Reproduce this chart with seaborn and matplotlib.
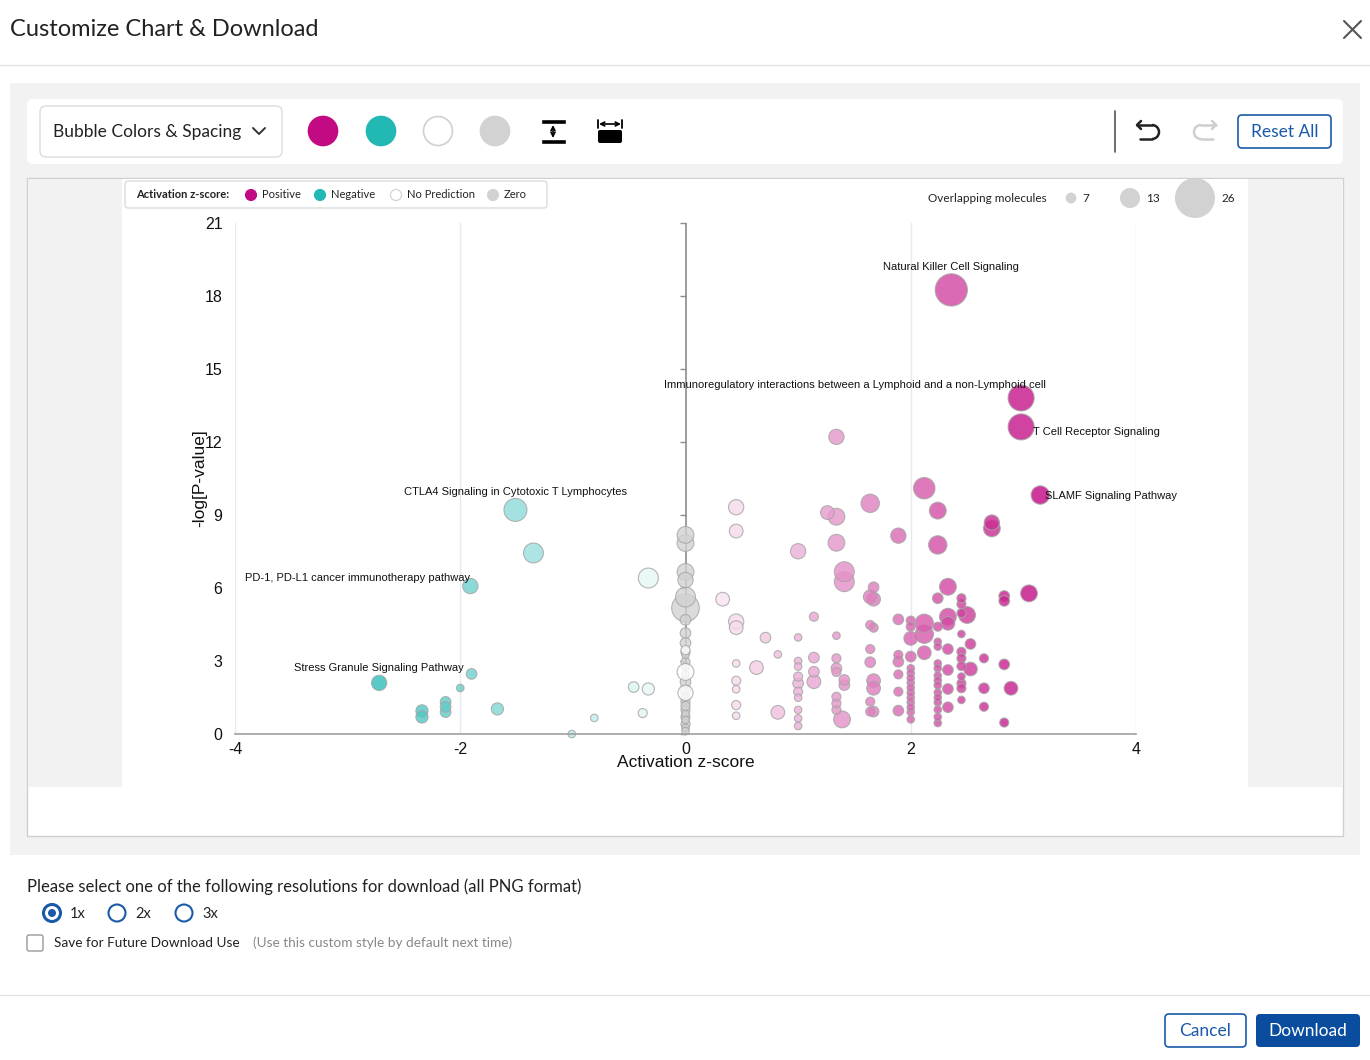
import numpy as np
import pandas as pd
import matplotlib
matplotlib.use("Agg")
import matplotlib.pyplot as plt
import seaborn as sns
from matplotlib.colors import LinearSegmentedColormap, TwoSlopeNorm
from matplotlib.patches import FancyBboxPatch, Rectangle, Circle, Arc

# ---- data ----
# positive z-score pathways: z-score, -log(p), overlapping molecules
pos_z = [2.36, 2.98, 2.98, 1.34, 3.15, 0.45, 0.45, 1.00, 1.26, 1.34, 1.64, 1.89, 2.12, 2.24, 2.24,
         2.72, 2.72, 1.34, 1.41, 1.41, 0.33, 0.45, 0.45, 0.71, 0.82, 0.63, 0.45, 0.45, 0.45, 0.45,
         0.45, 0.82, 1.00, 1.14,
         1.00, 1.00, 1.00, 1.00, 1.00, 1.00, 1.00, 1.00, 1.00,
         1.14, 1.14, 1.14,
         1.34, 1.34, 1.34, 1.34, 1.34, 1.34, 1.34,
         1.41, 1.41, 1.39,
         1.67, 1.64, 1.67, 1.64, 1.67, 1.64, 1.64, 1.67, 1.67, 1.64, 1.67, 1.64,
         1.89, 1.89, 1.89, 1.89, 1.89, 1.89,
         2.00, 2.00, 2.00, 2.00, 2.00, 2.00, 2.00, 2.00, 2.00, 2.00, 2.00, 2.00, 2.00, 2.00, 2.00,
         2.12, 2.12, 2.12,
         2.24, 2.24, 2.24, 2.24, 2.24, 2.24, 2.24, 2.24, 2.24, 2.24, 2.24, 2.24, 2.24, 2.24, 2.24,
         2.33, 2.33, 2.33, 2.33, 2.33, 2.33, 2.33,
         2.45, 2.45, 2.45, 2.45, 2.45, 2.45, 2.45, 2.45, 2.45, 2.45, 2.45,
         2.50, 2.53, 2.53, 2.65, 2.65, 2.65, 2.83, 2.83, 2.83, 2.83, 2.89, 3.05]
pos_p = [18.25, 13.81, 12.62, 12.21, 9.82, 9.32, 8.34, 7.51, 9.10, 8.93, 9.48, 8.15, 10.10, 9.18, 7.77,
         8.69, 8.45, 7.86, 6.67, 6.26, 5.54, 4.62, 4.37, 3.96, 3.27, 2.73, 2.90, 2.19, 1.84, 1.19,
         0.75, 0.89, 3.97, 4.82,
         3.00, 2.77, 2.36, 2.08, 1.74, 1.49, 0.99, 0.64, 0.33,
         3.14, 2.56, 2.15,
         4.04, 3.11, 2.70, 2.55, 1.53, 1.26, 0.99,
         2.22, 2.01, 0.60,
         6.03, 5.64, 5.54, 4.48, 4.37, 3.49, 2.95, 2.19, 1.88, 1.33, 0.92, 0.92,
         4.71, 3.25, 2.97, 2.45, 1.74, 0.96,
         4.66, 4.41, 3.93, 3.18, 2.70, 2.50, 2.30, 2.10, 1.90, 1.70, 1.50, 1.30, 1.10, 0.90, 0.60,
         4.55, 4.10, 3.34,
         5.58, 4.41, 3.79, 3.59, 2.90, 2.70, 2.40, 2.20, 2.00, 1.70, 1.50, 1.30, 1.00, 0.70, 0.45,
         6.05, 4.82, 4.55, 3.49, 2.63, 1.85, 1.10,
         5.58, 5.34, 4.97, 4.11, 3.38, 3.11, 2.79, 2.36, 2.08, 1.88, 1.40,
         4.89, 3.70, 2.67, 3.11, 1.88, 1.12, 5.67, 5.47, 2.86, 0.47, 1.88, 5.78]
pos_n = [20, 16, 16, 9, 11, 9, 8, 9, 8, 10, 11, 9, 13, 10, 11,
         9, 10, 10, 12, 12, 8, 9, 8, 6, 4, 8, 4, 5, 4, 5,
         4, 8, 4, 5,
         4, 4, 5, 6, 5, 4, 4, 4, 4,
         6, 6, 8,
         4, 5, 6, 5, 5, 5, 5,
         6, 6, 10,
         6, 8, 8, 5, 5, 5, 6, 8, 8, 5, 6, 5,
         6, 5, 6, 5, 5, 6,
         5, 5, 8, 6, 4, 4, 4, 4, 4, 4, 4, 4, 4, 4, 4,
         11, 11, 8,
         6, 5, 4, 4, 4, 4, 4, 4, 4, 4, 4, 4, 4, 4, 4,
         10, 10, 8, 6, 6, 6, 6,
         5, 5, 5, 4, 5, 5, 5, 4, 5, 5, 4,
         10, 6, 8, 5, 6, 5, 6, 6, 6, 5, 8, 10]

# negative z-score pathways
neg_z = [-1.51, -1.35, -0.33, -1.91, -1.90, -2.72, -2.00, -2.34, -2.34, -2.13, -2.13, -2.13,
         -1.67, -0.46, -0.33, -0.38, -0.81, -1.01]
neg_p = [9.21, 7.44, 6.41, 6.08, 2.47, 2.10, 1.89, 0.95, 0.70, 1.32, 1.11, 0.90,
         1.03, 1.93, 1.85, 0.86, 0.66, 0.00]
neg_n = [14, 12, 12, 9, 6, 9, 4, 7, 7, 6, 6, 6,
         7, 6, 7, 5, 4, 4]

# z-score = 0 pathways (gray) and no prediction (white)
zero_p = [8.18, 7.85, 6.66, 6.33, 5.63, 5.18, 4.69, 4.15, 3.74, 3.37, 3.25, 2.96, 2.75, 2.43,
          2.14, 1.81, 1.48, 1.32, 1.15, 0.99, 0.82, 0.70, 0.58, 0.41, 0.25, 0.12]
zero_n = [10, 10, 10, 9, 12, 17, 6, 6, 6, 5, 4, 5, 4, 4,
          6, 6, 5, 5, 5, 5, 4, 5, 4, 5, 4, 4]
nopred_p = [3.45, 2.55, 1.69]
nopred_n = [5, 10, 9]

# labelled pathways
lab_names = ["Natural Killer Cell Signaling",
             "Immunoregulatory interactions between a Lymphoid and a non-Lymphoid cell",
             "T Cell Receptor Signaling", "SLAMF Signaling Pathway",
             "CTLA4 Signaling in Cytotoxic T Lymphocytes",
             "PD-1, PD-L1 cancer immunotherapy pathway",
             "Stress Granule Signaling Pathway"]
lab_z = [2.36, 2.98, 2.98, 3.15, -1.51, -1.91, -2.72]
lab_p = [18.25, 13.81, 12.62, 9.82, 9.21, 6.08, 2.10]
lab_off = [(0, 23, "center"), (-166, 13, "center"), (12, -5, "left"), (5, -1, "left"),
           (0, 18, "center"), (0, 8, "right"), (0, 15, "center")]

legend_counts = [7, 13, 26]

# ---- style ----
sns.set_style("white")
plt.rcParams["font.family"] = ["Liberation Sans", "DejaVu Sans"]
plt.rcParams["axes.unicode_minus"] = False
UI = ["Lato", "DejaVu Sans"]
MAG, TEAL, GRAY = "#c20a83", "#22b9b5", "#d2d2d2"
BLUE = "#1a5aa8"

def area(n):
    # bubble radius in px grows linearly with molecule count
    return (1.11 * n + 1.0) ** 2

fig = plt.figure(figsize=(13.7, 10.6), dpi=100)
bg = fig.add_axes([0, 0, 1, 1])
bg.set_xlim(0, 1370)
bg.set_ylim(1060, 0)
bg.axis("off")

def rrect(x, y, w, h, fc, ec="none", lw=1, r=6, z=1):
    bg.add_patch(FancyBboxPatch((x, y), w, h, boxstyle=f"round,pad=0,rounding_size={r}",
                                fc=fc, ec=ec, lw=lw, zorder=z))

# header
bg.text(10, 29, "Customize Chart & Download", fontsize=17, family=UI, va="center", color="#222")
bg.plot([1344, 1361], [21, 38], color="#555", lw=1.5)
bg.plot([1344, 1361], [38, 21], color="#555", lw=1.5)
bg.axhline(65, color="#e2e2e2", lw=1)

# gray panel + toolbar
bg.add_patch(Rectangle((10, 83), 1350, 772, fc="#f2f2f2", ec="none", zorder=0))
rrect(27, 99, 1316, 65, "white", r=6)
rrect(40, 106, 242, 51, "white", ec="#dcdcdc", r=6, z=2)
bg.text(53, 132, "Bubble Colors & Spacing", fontsize=12.5, family=UI, va="center", color="#222", zorder=3)
bg.plot([253, 259, 265], [128, 134, 128], color="#333", lw=1.4, zorder=3)
for cx, c, e in [(323, MAG, MAG), (381, TEAL, TEAL), (438, "white", "#d0d0d0"), (495, GRAY, GRAY)]:
    bg.add_patch(Circle((cx, 131), 14.5, fc=c, ec=e, lw=1.2, zorder=3))
bg.add_patch(Rectangle((541, 119), 25, 5, fc="black", zorder=3))
bg.add_patch(Rectangle((541, 139), 25, 5, fc="black", zorder=3))
bg.annotate("", xy=(553, 125), xytext=(553, 138), zorder=3,
            arrowprops=dict(arrowstyle="<->", lw=1.2, color="black", shrinkA=0, shrinkB=0,
                            mutation_scale=7))
bg.annotate("", xy=(599, 124), xytext=(621, 124), zorder=3,
            arrowprops=dict(arrowstyle="<->", lw=1.2, color="black", shrinkA=0, shrinkB=0,
                            mutation_scale=7))
bg.plot([598, 598], [120, 128], color="black", lw=1.3)
bg.plot([622, 622], [120, 128], color="black", lw=1.3)
rrect(598, 130, 24, 13, "black", r=2, z=3)
bg.plot([1115, 1115], [111, 152], color="#555", lw=1.2, zorder=3)

def undo(cx, col, flip=1):
    bg.plot([cx - 11 * flip, cx + 4 * flip], [125, 125], color=col, lw=1.8, zorder=3)
    bg.plot([cx - 7 * flip, cx - 11 * flip, cx - 7 * flip], [121, 125, 129], color=col, lw=1.8, zorder=3)
    bg.add_patch(Arc((cx + 4 * flip, 132), 14, 14, theta1=-90 if flip > 0 else 90,
                     theta2=90 if flip > 0 else 270, color=col, lw=1.8, zorder=3))
    bg.plot([cx + 4 * flip, cx - 8 * flip], [139, 139], color=col, lw=1.8, zorder=3)

undo(1148, "#222", 1)
undo(1205, "#cfcfcf", -1)
rrect(1238, 115, 93, 33, "white", ec=BLUE, lw=1.2, r=4, z=3)
bg.text(1284.5, 132, "Reset All", fontsize=12.5, family=UI, ha="center", va="center", color=BLUE, zorder=4)

# chart container
bg.add_patch(Rectangle((27, 178), 1316, 658, fc="white", ec="#cfcfcf", lw=1, zorder=1))
bg.add_patch(Rectangle((28, 179), 1314, 608, fc="#f2f2f2", ec="none", zorder=1))
bg.add_patch(Rectangle((122, 179), 1126, 608, fc="white", ec="none", zorder=1))

# z-score legend
rrect(125, 181, 422, 27, "white", ec="#dcdcdc", r=3, z=2)
bg.text(136, 194.5, "Activation z-score:", fontsize=8, family=UI, fontweight="bold", va="center", color="#222", zorder=3)
for cx, c, e, t in [(251, MAG, MAG, "Positive"), (320, TEAL, TEAL, "Negative"),
                    (396, "white", "#d0d0d0", "No Prediction"), (493, GRAY, GRAY, "Zero")]:
    bg.add_patch(Circle((cx, 195), 5.5, fc=c, ec=e, lw=0.8, zorder=3))
    bg.text(cx + 11, 194.5, t, fontsize=8, family=UI, va="center", color="#222", zorder=3)

# size legend
bg.text(928, 199, "Overlapping molecules", fontsize=8.5, family=UI, va="center", color="#222", zorder=3)
for cx, n in zip([1071, 1130, 1195], legend_counts):
    r = 0.77 * n
    bg.add_patch(Circle((cx, 198), r, fc=GRAY, ec="none", zorder=3))
    bg.text(cx + r + 6, 199, str(n), fontsize=8.5, family=UI, va="center", color="#222", zorder=3)

# download options
bg.text(27, 887, "Please select one of the following resolutions for download (all PNG format)",
        fontsize=12, family=UI, va="center", color="#222")
for cx, t, sel in [(52, "1x", True), (117, "2x", False), (184, "3x", False)]:
    bg.add_patch(Circle((cx, 913), 8.5, fc="white", ec=BLUE, lw=2.2 if sel else 1.5, zorder=3))
    if sel:
        bg.add_patch(Circle((cx, 913), 4, fc=BLUE, ec="none", zorder=4))
    bg.text(cx + 18, 913.5, t, fontsize=10.5, family=UI, va="center", color="#222")
rrect(27, 935, 16, 16, "white", ec="#999", lw=1, r=2, z=3)
bg.text(54, 943, "Save for Future Download Use", fontsize=9.8, family=UI, va="center", color="#222")
bg.text(253, 943, "(Use this custom style by default next time)", fontsize=9.8, family=UI,
        va="center", color="#888")
bg.axhline(995, color="#e2e2e2", lw=1)
rrect(1165, 1014, 81, 33, "white", ec=BLUE, lw=1.2, r=4, z=3)
bg.text(1205.5, 1030.5, "Cancel", fontsize=12.5, family=UI, ha="center", va="center", color=BLUE, zorder=4)
rrect(1256, 1014, 104, 33, "#0a4d9e", r=4, z=3)
bg.text(1308, 1030.5, "Download", fontsize=12.5, family=UI, ha="center", va="center", color="white", zorder=4)

# ---- bubble chart ----
ax = fig.add_axes([235 / 1370, 326 / 1060, 901 / 1370, 511 / 1060])
ax.set_facecolor("none")

signed = pd.DataFrame({"z": pos_z + neg_z, "p": pos_p + neg_p, "n": pos_n + neg_n})
signed = signed.sort_values("n", ascending=False)
zero = pd.DataFrame({"z": 0.0, "p": zero_p, "n": zero_n}).sort_values("n", ascending=False)
nopred = pd.DataFrame({"z": 0.0, "p": nopred_p, "n": nopred_n})
all_n = sorted(set(pos_n + neg_n + zero_n + nopred_n))
size_map = {n: area(n) for n in all_n}

cmap = LinearSegmentedColormap.from_list("zs", [TEAL, "#ffffff", MAG])
norm = TwoSlopeNorm(vmin=-3.0, vcenter=0.0, vmax=3.2)

sns.scatterplot(data=zero, x="z", y="p", size="n", sizes=size_map, color=GRAY, alpha=0.8,
                edgecolor="#a5a5a5", linewidth=0.8, legend=False, ax=ax)
sns.scatterplot(data=nopred, x="z", y="p", size="n", sizes=size_map, color="white", alpha=0.8,
                edgecolor="#a5a5a5", linewidth=0.8, legend=False, ax=ax)
sns.scatterplot(data=signed, x="z", y="p", hue="z", palette=cmap, hue_norm=norm,
                size="n", sizes=size_map, alpha=0.82, edgecolor="#a5a5a5", linewidth=0.8,
                legend=False, ax=ax)
for coll in ax.collections:
    coll.set_clip_on(False)

for name, zx, py, (dx, dy, ha) in zip(lab_names, lab_z, lab_p, lab_off):
    ax.annotate(name, (zx, py), xytext=(dx, dy), textcoords="offset pixels",
                ha=ha, va="center", fontsize=8, color="#111", annotation_clip=False)

ax.set_xlim(-4, 4)
ax.set_ylim(0, 21)
ax.set_xticks([-4, -2, 0, 2, 4])
yt = list(range(0, 22, 3))
ax.set_yticks(yt)
ax.grid(False)
for xv in [-4, -2, 2, 4]:
    ax.axvline(xv, color="#e6e9f2", lw=1, zorder=0)
ax.axvline(0, color="#8c8c8c", lw=1.2, zorder=0.5)
ax.plot([0] * len(yt), yt, marker=0, ms=4, color="#8c8c8c", ls="none", zorder=0.5, clip_on=False)
for s in ["top", "right", "left"]:
    ax.spines[s].set_visible(False)
ax.spines["bottom"].set_color("#a0a0a0")
ax.spines["bottom"].set_linewidth(1.2)
ax.tick_params(axis="y", length=0, pad=9, labelsize=11.5, labelcolor="#111")
ax.tick_params(axis="x", length=4, color="#a0a0a0", pad=1.5, labelsize=11.5, labelcolor="#111")
ax.set_xlabel("Activation z-score", fontsize=12.5, color="#111")
ax.xaxis.set_label_coords(0.5, -0.041)
ax.set_ylabel("-log[P-value]", fontsize=12.5, color="#111")
ax.yaxis.set_label_coords(-0.031, 0.5)

fig.savefig("out.png", dpi=100, facecolor="white")
